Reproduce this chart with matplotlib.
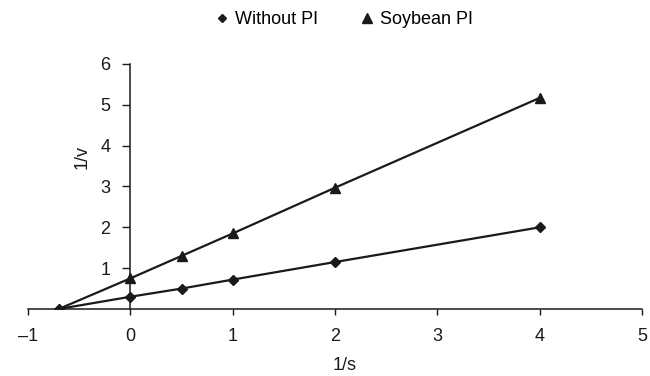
import matplotlib.pyplot as plt
from matplotlib.lines import Line2D

plt.rcParams['font.family'] = ['Liberation Sans', 'DejaVu Sans']

# Lineweaver-Burk data
x_vals = [-0.7, 0, 0.5, 1, 2, 4]
without_pi = [0, 0.3, 0.5, 0.72, 1.15, 2.0]
soybean_pi = [0, 0.75, 1.3, 1.85, 2.97, 5.17]
x_ticks = [-1, 0, 1, 2, 3, 4, 5]
y_ticks = [1, 2, 3, 4, 5, 6]

ink = '#1a1a1a'
fs = 13

fig = plt.figure(figsize=(6.5, 3.76), dpi=100)
ax = fig.add_axes([0.0431, 0.1782, 0.9446, 0.6516])

ax.plot(x_vals, without_pi, color=ink, lw=1.6, marker='D', ms=5,
        mfc=ink, mec=ink)
ax.plot(x_vals, soybean_pi, color=ink, lw=1.6, marker='^', ms=7.5,
        mfc=ink, mec=ink)

ax.set_xlim(-1, 5)
ax.set_ylim(0, 6)
ax.spines['left'].set_position(('data', 0))
ax.spines['top'].set_visible(False)
ax.spines['right'].set_visible(False)
for s in ('left', 'bottom'):
    ax.spines[s].set_color(ink)
    ax.spines[s].set_linewidth(1.1)

ax.set_xticks(x_ticks)
ax.set_xticklabels(['\u2013' + str(abs(t)) if t < 0 else str(t) for t in x_ticks])
ax.set_yticks(y_ticks)
ax.tick_params(axis='x', direction='out', length=4, width=1, pad=10,
               labelsize=fs, colors=ink)
ax.tick_params(axis='y', direction='out', length=5.5, width=1, pad=9,
               labelsize=fs, colors=ink)

fig.text(82 / 650, 1 - 157 / 376, '1/v', rotation=90, ha='center',
         va='center', fontsize=fs, color=ink)
fig.text(345 / 650, 1 - 366 / 376, '1/s', ha='center', va='center',
         fontsize=fs, color=ink)

handles = [
    Line2D([], [], color=ink, marker='D', ms=4.5, ls='none'),
    Line2D([], [], color=ink, marker='^', ms=6.5, ls='none'),
]
fig.legend(handles, ['Without PI', 'Soybean PI'], loc='center',
           bbox_to_anchor=(343 / 650, 1 - 20 / 376), ncol=2, frameon=False,
           fontsize=fs, handletextpad=0.2, columnspacing=2.2,
           handlelength=1.0)

fig.savefig('out.png', dpi=100)
